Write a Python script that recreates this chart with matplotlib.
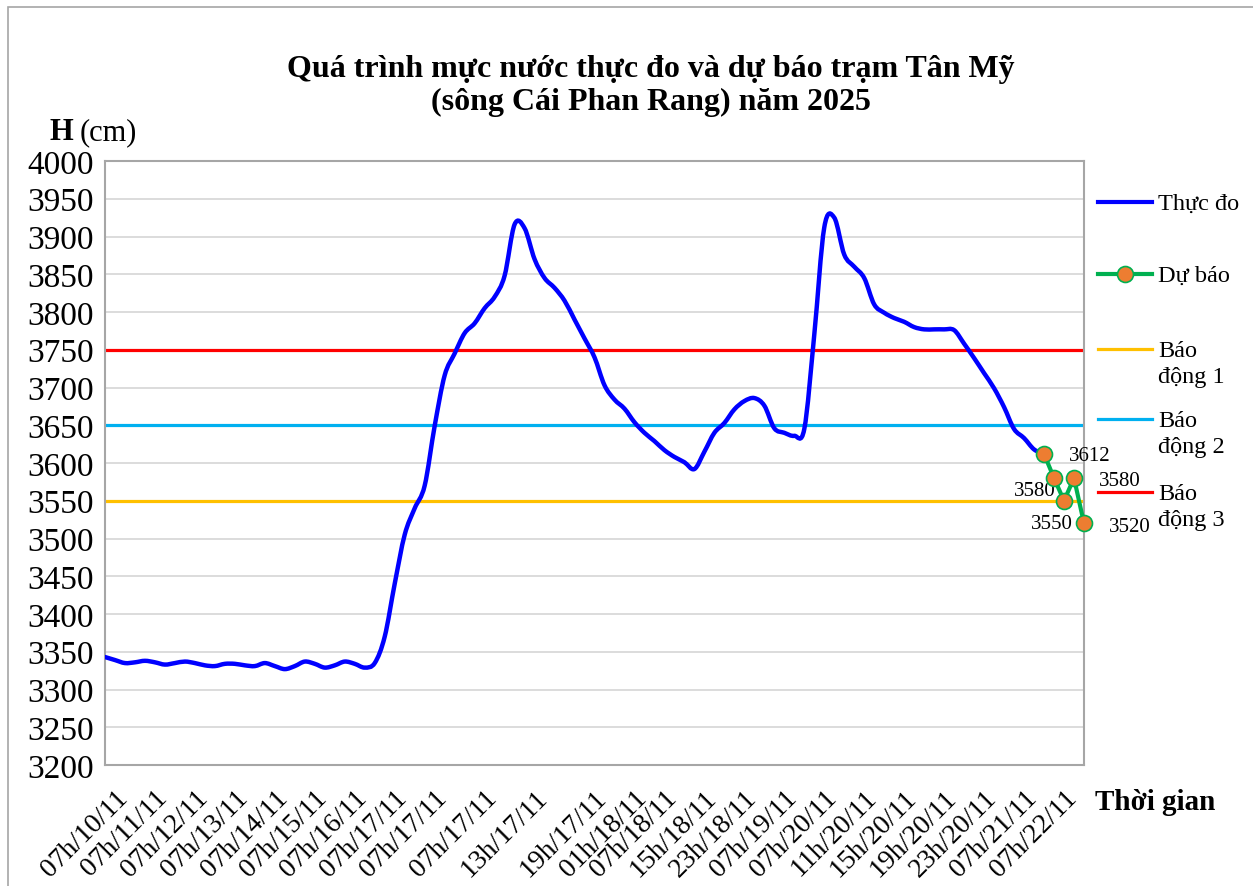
import matplotlib
matplotlib.use("Agg")
import matplotlib.pyplot as plt
from matplotlib.lines import Line2D
from matplotlib.patches import Rectangle, PathPatch
from matplotlib.path import Path

plt.rcParams['font.family'] = ['Liberation Serif', 'DejaVu Serif']

# observed water level (cm), one value per category slot
thuc_do = [3343, 3339, 3335, 3336, 3338, 3336, 3333, 3335, 3337, 3335,
           3332, 3331, 3334, 3334, 3332, 3331, 3335, 3331, 3327, 3331,
           3337, 3334, 3329, 3332, 3337, 3334, 3329, 3335, 3370, 3440,
           3505, 3540, 3570, 3649, 3716, 3745, 3772, 3785, 3805, 3820,
           3848, 3916, 3911, 3870, 3845, 3832, 3815, 3790, 3765, 3740,
           3703, 3684, 3672, 3654, 3640, 3629, 3617, 3608, 3601, 3592,
           3615, 3640, 3653, 3671, 3682, 3686, 3676, 3646, 3640, 3636,
           3645, 3770, 3912, 3925, 3876, 3860, 3845, 3810, 3799, 3792,
           3787, 3780, 3777, 3777, 3777, 3776, 3758, 3739, 3719, 3699,
           3674, 3645, 3633, 3618, 3612]
# forecast, continues from the last observed slot
du_bao = [3612, 3580, 3550, 3580, 3520]
du_bao_start = 94

# alarm levels
bao_dong_1 = 3550
bao_dong_2 = 3650
bao_dong_3 = 3750

# category labels and the slot they sit on
tick_idx = [1, 5, 9, 13, 17, 21, 25, 29, 33, 38, 43, 49, 53, 56,
            60, 64, 68, 72, 76, 80, 84, 88, 92, 96]
tick_lbl = ["07h/10/11", "07h/11/11", "07h/12/11", "07h/13/11", "07h/14/11",
            "07h/15/11", "07h/16/11", "07h/17/11", "07h/17/11", "07h/17/11",
            "13h/17/11", "19h/17/11", "01h/18/11", "07h/18/11", "15h/18/11",
            "23h/18/11", "07h/19/11", "07h/20/11", "11h/20/11", "15h/20/11",
            "19h/20/11", "23h/20/11", "07h/21/11", "07h/22/11"]

# data label offsets in pixels (dx, dy)
lbl_off = [(46, -2), (-19, -12), (-12, -23), (46, -2), (46, -3)]

c_blue = "#0000FF"
c_green = "#00B050"
c_orange = "#ED7D31"
c_yellow = "#FFC000"
c_cyan = "#00B0F0"
c_red = "#FF0000"


def smooth_path(xs, ys):
    # excel-like smoothed line: bezier segments through every point
    pts = list(zip(xs, ys))
    verts = [pts[0]]
    codes = [Path.MOVETO]
    for i in range(len(pts)-1):
        p0 = pts[max(i-1, 0)]
        p1 = pts[i]
        p2 = pts[i+1]
        p3 = pts[min(i+2, len(pts)-1)]
        c1 = (p1[0] + (p2[0]-p0[0])/6, p1[1] + (p2[1]-p0[1])/6)
        c2 = (p2[0] - (p3[0]-p1[0])/6, p2[1] - (p3[1]-p1[1])/6)
        verts += [c1, c2, p2]
        codes += [Path.CURVE4]*3
    return Path(verts, codes)


fig = plt.figure(figsize=(12.53, 8.87), dpi=100)
ax = fig.add_axes([105/1253, 1-766/887, (1084-105)/1253, (766-162)/887])

x_obs = list(range(len(thuc_do)))
x_fc = list(range(du_bao_start, du_bao_start+len(du_bao)))

ax.axhline(bao_dong_1, color=c_yellow, lw=2.3, zorder=2)
ax.axhline(bao_dong_2, color=c_cyan, lw=2.3, zorder=2)
ax.axhline(bao_dong_3, color=c_red, lw=2.3, zorder=2)
ax.add_patch(PathPatch(smooth_path(x_obs, thuc_do), fill=False,
                       edgecolor=c_blue, lw=3.2, joinstyle='round',
                       capstyle='round', zorder=3))
ax.plot(x_fc, du_bao, color=c_green, lw=3, marker='o', ms=11.5,
        mfc=c_orange, mec=c_green, mew=1.2, zorder=4, clip_on=False)

for xi, v, (dx, dy) in zip(x_fc, du_bao, lbl_off):
    ax.annotate(str(v), (xi, v), xytext=(dx, dy), textcoords='offset pixels',
                ha='center', va='center', fontsize=15, annotation_clip=False)

ax.set_xlim(0, 98)
ax.set_ylim(3200, 4000)
ax.set_yticks(range(3200, 4001, 50))
ax.grid(axis='y', color='#D9D9D9', lw=1.3)
ax.set_axisbelow(True)
ax.set_xticks(tick_idx)
ax.set_xticklabels(tick_lbl, rotation=45, ha='right', rotation_mode='anchor',
                   fontsize=20)
ax.tick_params(axis='x', length=0, pad=14)
ax.tick_params(axis='y', length=0, pad=8, labelsize=24)
for s in ax.spines.values():
    s.set_color('#A6A6A6')
    s.set_linewidth(1.5)

fig.text(651/1253, 1-70/887, "Quá trình mực nước thực đo và dự báo trạm Tân Mỹ",
         ha='center', va='center', fontsize=23, fontweight='bold')
fig.text(651/1253, 1-102/887, "(sông Cái Phan Rang) năm 2025",
         ha='center', va='center', fontsize=23, fontweight='bold')
fig.text(50/1253, 1-133/887, "H", ha='left', va='center', fontsize=22,
         fontweight='bold')
fig.text(80/1253, 1-133/887, "(cm)", ha='left', va='center', fontsize=22)
fig.text(1095/1253, 1-803/887, "Thời gian", ha='left', va='center',
         fontsize=21, fontweight='bold')

# legend on the right
leg = [("Thực đo", c_blue, False, 203), ("Dự báo", c_green, True, 275),
       ("Báo\nđộng 1", c_yellow, False, 350), ("Báo\nđộng 2", c_cyan, False, 420),
       ("Báo\nđộng 3", c_red, False, 493)]
for txt, col, mk, yp in leg:
    yy = 1 - yp/887
    fig.add_artist(Line2D([1098/1253, 1152/1253], [yy, yy], color=col,
                          lw=3 if col in (c_blue, c_green) else 2.3))
    if mk:
        fig.add_artist(Line2D([1125/1253], [yy], marker='o', ms=11.5,
                              mfc=c_orange, mec=c_green, mew=1.2))
    fig.text(1158/1253, yy + 9/887, txt, ha='left', va='top', fontsize=17.5,
             linespacing=1.3)

fig.add_artist(Rectangle((8/1253, -0.01), 1.0, 1-8/887+0.01, fill=False,
                         edgecolor='#A6A6A6', lw=1.2))

fig.savefig("out.png", dpi=100)
